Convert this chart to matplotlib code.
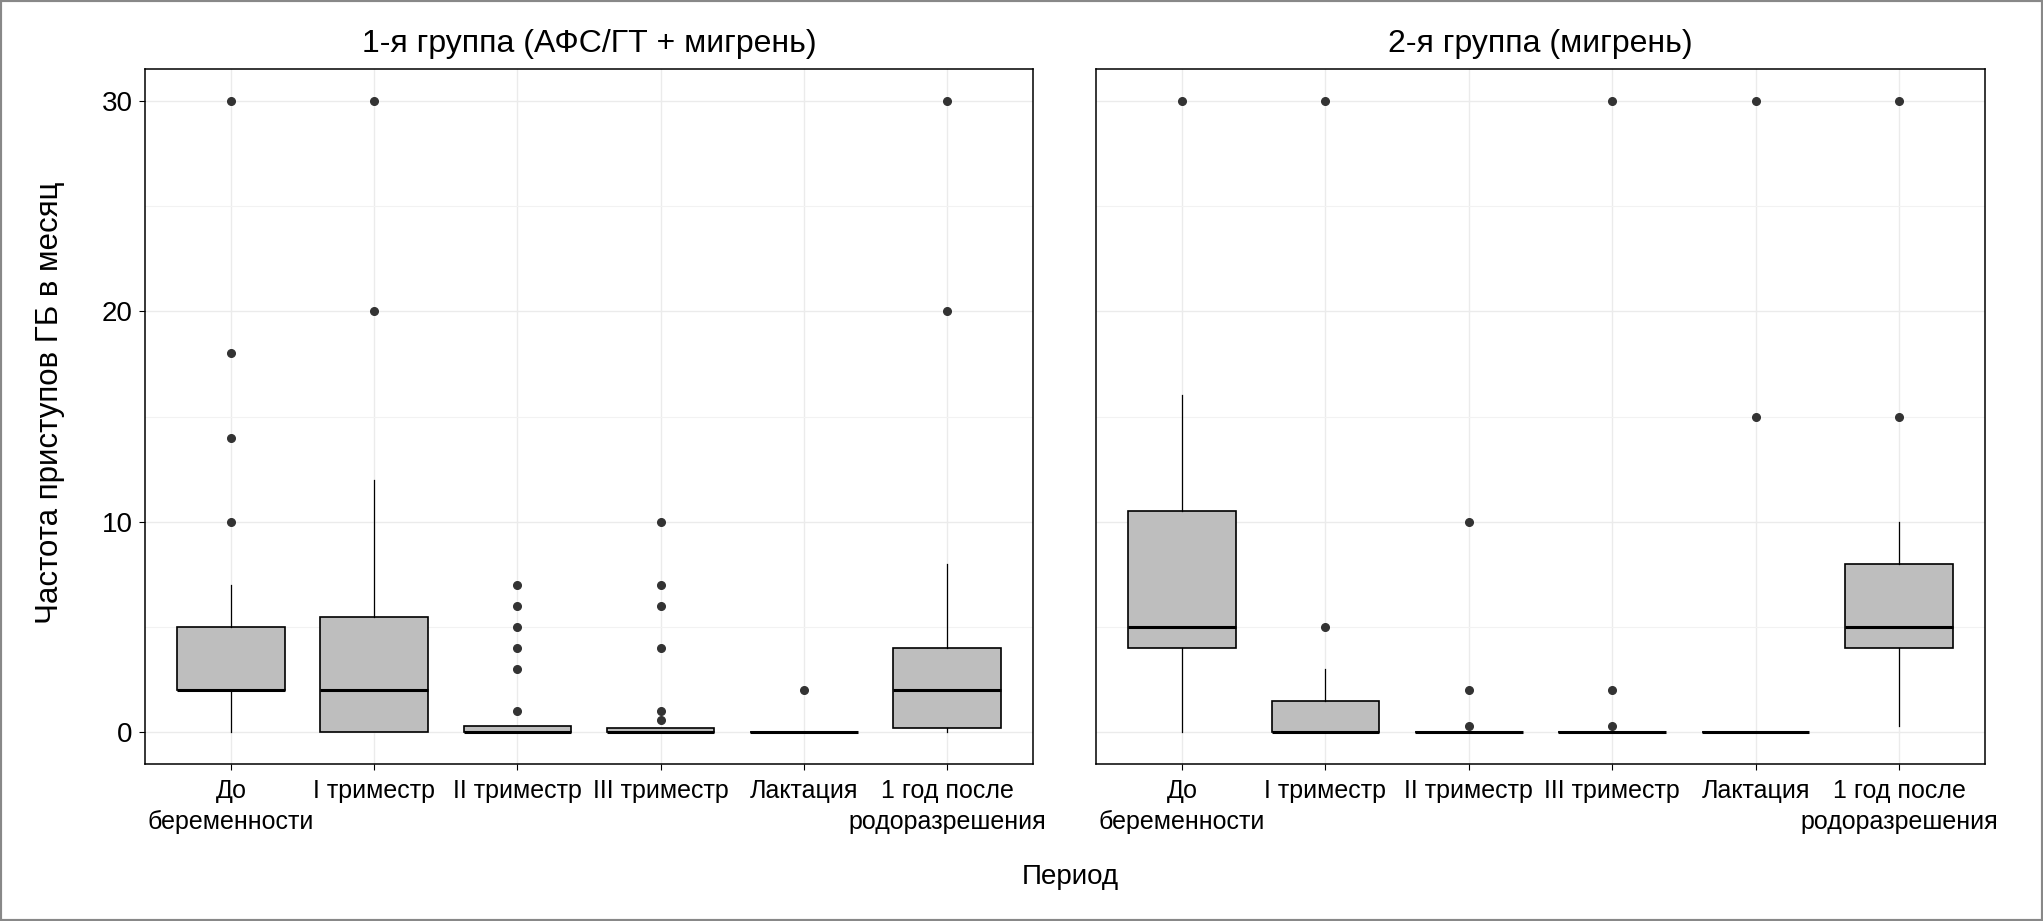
import matplotlib
matplotlib.use("Agg")
import matplotlib.pyplot as plt
from matplotlib.patches import Rectangle

plt.rcParams["font.family"] = ["Liberation Sans", "DejaVu Sans"]

# --- data ---
periods = ["До\nбеременности", "I триместр", "II триместр", "III триместр",
           "Лактация", "1 год после\nродоразрешения"]

g1_title = "1-я группа (АФС/ГТ + мигрень)"
g1_q1 = [2, 0, 0, 0, 0, 0.2]
g1_med = [2, 2, 0, 0, 0, 2]
g1_q3 = [5, 5.5, 0.3, 0.2, 0, 4]
g1_lo = [0, 0, 0, 0, 0, 0]
g1_hi = [7, 12, 0.3, 0.2, 0, 8]
g1_out = [[10, 14, 18, 30], [20, 30], [1, 3, 4, 5, 6, 7],
          [0.6, 1, 4, 6, 7, 10], [2], [20, 30]]

g2_title = "2-я группа (мигрень)"
g2_q1 = [4, 0, 0, 0, 0, 4]
g2_med = [5, 0, 0, 0, 0, 5]
g2_q3 = [10.5, 1.5, 0, 0, 0, 8]
g2_lo = [0, 0, 0, 0, 0, 0.3]
g2_hi = [16, 3, 0, 0, 0, 10]
g2_out = [[30], [5, 30], [0.3, 2, 10], [0.3, 2, 30], [15, 30], [15, 30]]

y_label = "Частота приступов ГБ в месяц"
x_label = "Период"


def make_stats(q1, med, q3, lo, hi, out):
    return [dict(q1=a, med=b, q3=c, whislo=d, whishi=e, fliers=f)
            for a, b, c, d, e, f in zip(q1, med, q3, lo, hi, out)]


fig = plt.figure(figsize=(20.43, 9.21), dpi=100)
ax1 = fig.add_axes([0.0710, 0.1705, 0.4346, 0.7545])
ax2 = fig.add_axes([0.5365, 0.1705, 0.4351, 0.7545])

panels = [
    (ax1, g1_title, make_stats(g1_q1, g1_med, g1_q3, g1_lo, g1_hi, g1_out)),
    (ax2, g2_title, make_stats(g2_q1, g2_med, g2_q3, g2_lo, g2_hi, g2_out)),
]

for ax, title, stats in panels:
    ax.bxp(stats, positions=range(1, len(periods) + 1), widths=0.75,
           showcaps=False, patch_artist=True,
           boxprops=dict(facecolor="#BEBEBE", edgecolor="black", linewidth=1.2),
           medianprops=dict(color="black", linewidth=2.2),
           whiskerprops=dict(color="black", linewidth=0.9),
           flierprops=dict(marker="o", markerfacecolor="#333333",
                           markeredgecolor="#333333", markersize=5.5))
    ax.set_xlim(0.4, 6.6)
    ax.set_ylim(-1.5, 31.5)
    ax.set_yticks([0, 10, 20, 30])
    ax.set_yticks([5, 15, 25], minor=True)
    ax.set_xticks(range(1, len(periods) + 1))
    ax.set_xticklabels(periods, fontsize=18, linespacing=1.35)
    ax.set_axisbelow(True)
    ax.grid(which="major", color="#EBEBEB", linewidth=1.0)
    ax.grid(which="minor", axis="y", color="#F2F2F2", linewidth=0.8)
    ax.tick_params(axis="x", which="major", length=4, width=0.8, pad=7)
    ax.tick_params(axis="y", which="major", length=4, width=0.8,
                   labelsize=20, pad=5)
    ax.tick_params(axis="y", which="minor", length=0)
    for sp in ax.spines.values():
        sp.set_linewidth(1.1)
    ax.set_title(title, fontsize=23, pad=12)

ax2.tick_params(axis="y", which="major", length=0, labelleft=False)

fig.text(0.0245, 0.5625, y_label, rotation=90, fontsize=22.5,
         ha="center", va="center")
fig.text(0.524, 0.048, x_label, fontsize=20, ha="center", va="center")

# thin grey frame round the whole picture
fig.patches.append(Rectangle((0, 0), 1, 1, transform=fig.transFigure,
                             fill=False, edgecolor="#888888", linewidth=3))

fig.savefig("out.png", dpi=100)
